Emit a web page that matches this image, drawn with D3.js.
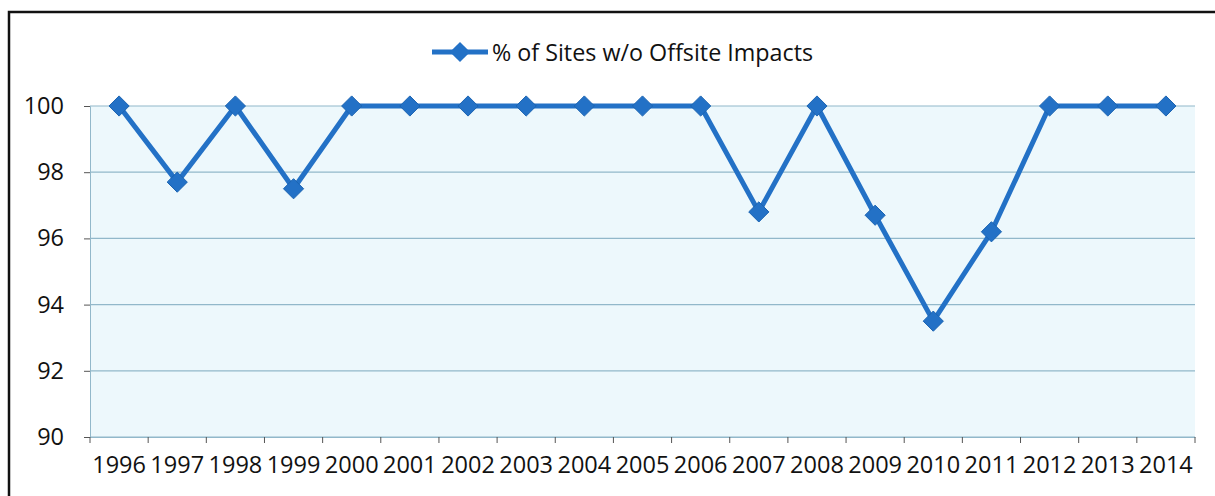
<!DOCTYPE html>
<html>
<head>
<meta charset="utf-8">
<script src="https://cdn.jsdelivr.net/npm/d3@7"></script>
<style>
  body { margin: 0; background: #fff; }
  text { font-family: "Open Sans", sans-serif; fill: #111; }
</style>
</head>
<body>
<div id="chart"></div>
<script>
// % of sites without offsite impacts, by year
let years = ["1996", "1997", "1998", "1999", "2000", "2001", "2002", "2003", "2004", "2005",
             "2006", "2007", "2008", "2009", "2010", "2011", "2012", "2013", "2014"];
let pctNoImpact = [100, 97.7, 100, 97.5, 100, 100, 100, 100, 100, 100,
                   100, 96.8, 100, 96.7, 93.5, 96.2, 100, 100, 100];
let yTicks = [90, 92, 94, 96, 98, 100];
let seriesName = "% of Sites w/o Offsite Impacts";

function makeGraph() {
  let w = 1215, h = 496;
  let margin = {top: 106, right: 20, bottom: 59, left: 90};
  let blue = "#2371c6";
  let gridCol = "#92b8ca";

  let svg = d3.select("#chart").append("svg")
              .attr("width", w)
              .attr("height", h);

  // outer frame (runs off right / bottom edge of the crop)
  svg.append("rect")
     .attr("x", 9).attr("y", 12)
     .attr("width", 1230).attr("height", 520)
     .attr("fill", "white")
     .attr("stroke", "#111")
     .attr("stroke-width", 2.5);

  let x = d3.scaleBand()
            .domain(years)
            .range([margin.left, w - margin.right]);

  let y = d3.scaleLinear()
            .domain([90, 100])
            .range([h - margin.bottom, margin.top]);

  // plot area fill
  svg.append("rect")
     .attr("x", margin.left).attr("y", y(100))
     .attr("width", x.range()[1] - margin.left)
     .attr("height", y(90) - y(100))
     .attr("fill", "#edf8fc");

  // gridlines + y ticks
  let yAxis = svg.append("g")
     .attr("transform", `translate(${margin.left},0)`)
     .call(d3.axisLeft(y).tickValues(yTicks).tickSize(6).tickPadding(20));
  yAxis.select(".domain").attr("stroke", gridCol);
  yAxis.selectAll(".tick line").attr("stroke", "#555");
  yAxis.selectAll("text").style("font-size", "23.5px").attr("fill", "#111");

  svg.append("g").selectAll("line")
     .data(yTicks)
     .enter().append("line")
     .attr("x1", margin.left).attr("x2", x.range()[1])
     .attr("y1", d => y(d)).attr("y2", d => y(d))
     .attr("stroke", gridCol)
     .attr("stroke-width", 1.2);

  // x axis: labels centred in bands, ticks on band edges
  let xAxis = svg.append("g")
     .attr("transform", `translate(0,${y(90)})`)
     .call(d3.axisBottom(x).tickSize(0).tickPadding(19));
  xAxis.select(".domain").attr("stroke", gridCol).attr("stroke-width", 1.2);
  xAxis.selectAll("text").style("font-size", "23.5px").attr("fill", "#111");

  let edges = years.map(d => x(d)).concat([x.range()[1]]);
  svg.append("g").selectAll("line")
     .data(edges)
     .enter().append("line")
     .attr("x1", d => d).attr("x2", d => d)
     .attr("y1", y(90)).attr("y2", y(90) + 6)
     .attr("stroke", "#555");

  // series line
  let pts = years.map((d, i) => ({year: d, v: pctNoImpact[i]}));
  let line = d3.line()
               .x(d => x(d.year) + x.bandwidth() / 2)
               .y(d => y(d.v));

  svg.append("path")
     .datum(pts)
     .attr("d", line)
     .attr("fill", "none")
     .attr("stroke", blue)
     .attr("stroke-width", 5)
     .attr("stroke-linejoin", "round");

  let diamond = d3.symbol().type(d3.symbolDiamond2).size(260);
  svg.append("g").selectAll("path")
     .data(pts)
     .enter().append("path")
     .attr("d", diamond)
     .attr("transform", d => `translate(${x(d.year) + x.bandwidth() / 2},${y(d.v)})`)
     .attr("fill", blue)
     .attr("stroke", "#1b64b2")
     .attr("stroke-width", 1);

  // legend
  let lg = svg.append("g").attr("transform", "translate(432,52)");
  lg.append("line")
    .attr("x1", 0).attr("x2", 56)
    .attr("stroke", blue).attr("stroke-width", 5);
  lg.append("path")
    .attr("d", diamond)
    .attr("transform", "translate(28,0)")
    .attr("fill", blue);
  lg.append("text")
    .attr("x", 60).attr("y", 1)
    .attr("dy", "0.35em")
    .style("font-size", "23.3px")
    .text(seriesName);
}

window.onload = function() {
  makeGraph();
};
</script>
</body>
</html>
